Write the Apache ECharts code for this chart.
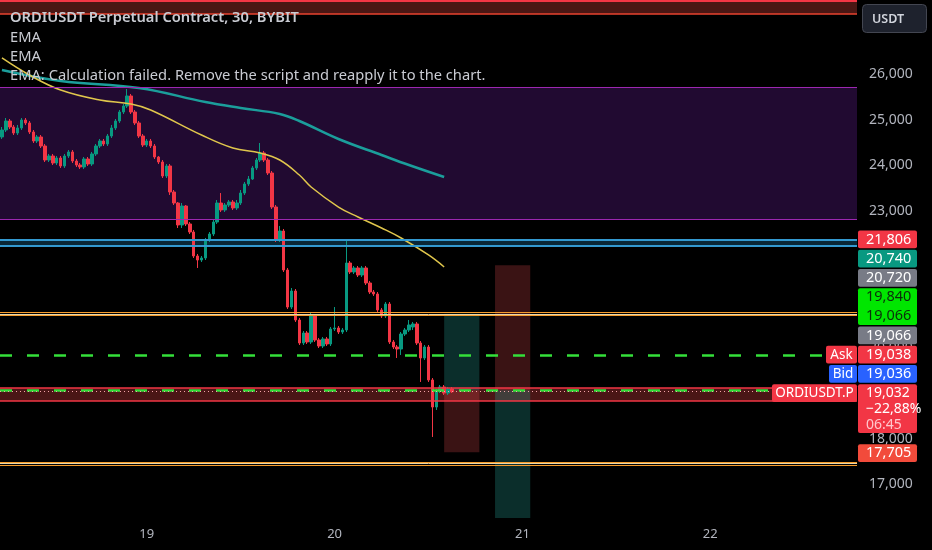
<!DOCTYPE html>
<html><head><meta charset="utf-8">
<script src="https://cdn.jsdelivr.net/npm/echarts/dist/echarts.min.js"></script>
<style>html,body{margin:0;padding:0;background:#000;}#c{width:932px;height:550px;}</style>
</head><body><div id="c"></div>
<script>
// ---- data (30-minute candles, ORDIUSDT.P) : [open, close, low, high]
const candles = [
[24619,24772,24575,24838],[24772,24969,24728,25035],[24969,24838,24794,25013],[24838,24706,24662,24882],
[24706,24816,24662,24882],[24816,24991,24772,25035],[24991,24926,24882,25035],[24926,24728,24684,24969],
[24728,24531,24487,24772],[24531,24619,24487,24662],[24619,24421,24377,24662],[24421,24114,24070,24465],
[24114,24202,24070,24246],[24202,24048,24004,24246],[24048,24158,24004,24202],[24158,23983,23939,24202],
[23983,24202,23939,24246],[24202,24290,24158,24333],[24290,24092,24048,24333],[24092,24004,23961,24136],
[24004,23961,23917,24048],[23961,24136,23917,24180],[24136,24026,23983,24180],[24026,24246,23983,24290],
[24246,24421,24202,24465],[24421,24531,24377,24575],[24531,24465,24421,24575],[24465,24640,24421,24684],
[24640,24816,24597,24882],[24816,24969,24772,25013],[24969,25167,24926,25211],[25167,25298,25123,25342],
[25298,25518,25255,25671],[25518,25167,25123,25562],[25167,24926,24882,25211],[24926,24640,24597,24969],
[24640,24443,24399,24684],[24443,24531,24399,24575],[24531,24421,24377,24575],[24421,24180,24136,24465],
[24180,24070,24026,24202],[24070,23763,23719,24114],[23763,23983,23719,24026],[23983,23412,23347,24026],
[23412,23171,23127,23456],[23171,22689,22623,23193],[22689,23105,22623,23171],[23105,22711,22667,23127],
[22711,22535,22491,22754],[22535,22009,21965,22579],[22009,21921,21746,22053],[21921,21965,21877,22009],
[21965,22360,21921,22404],[22360,22491,22316,22535],[22491,22754,22447,22798],[22754,23171,22711,23237],
[23171,23018,22974,23390],[23018,23127,22974,23171],[23127,23193,23083,23237],[23193,23062,23018,23237],
[23062,23171,23018,23237],[23171,23390,23127,23456],[23390,23588,23347,23632],[23588,23697,23544,23763],
[23697,23939,23676,23983],[23939,24114,23895,24158],[24114,24268,24070,24487],[24268,24114,24070,24312],
[24114,23829,23785,24158],[23829,23083,23040,23873],[23083,22360,22316,23127],[22360,22557,22316,22667],
[22557,21702,21658,22601],[21702,20890,20847,21746],[20890,21241,20847,21307],[21241,20605,20562,21285],
[20605,20101,20057,20649],[20101,20320,20057,20364],[20320,20123,20079,20364],[20123,20693,20079,20781],
[20693,20167,20123,20737],[20167,20035,19991,20211],[20035,20189,19991,20233],[20189,20079,20035,20233],
[20079,20408,20035,20452],[20408,20430,20364,20890],[20430,20342,20298,20474],[20342,20386,20298,20430],
[20386,21855,20342,22360],[21855,21658,21614,21899],[21658,21746,21614,21790],[21746,21592,21548,21790],
[21592,21746,21548,21790],[21746,21417,21373,21790],[21417,21219,21176,21461],[21219,21176,21132,21263],
[21176,20825,20781,21219],[20825,20693,20649,20869],[20693,20956,20649,21000],[20956,20123,20079,21000],
[20123,20013,19969,20167],[20013,19969,19772,20057],[19969,20298,19838,20342],[20298,20386,20255,20430],
[20386,20496,20342,20605],[20452,20518,20386,20562],[20518,20101,20057,20562],[20101,19772,19246,20145],
[19772,20013,19728,20057],[20013,19290,19246,20057],[19290,18697,18040,19333],[18697,19048,18632,19092],
[19048,19136,19004,19180],[19136,19004,18961,19180],[19004,19092,18961,19136],[19092,19032,19004,19136]
];
// EMA readings [candle index, value]
const emaYellow = [[0,26351],[7,25978],[15,25649],[25,25430],[33,25342],[38,25211],[51,24662],[59,24377],
  [66,24268],[71,24114],[76,23785],[79,23522],[86,23083],[91,22864],[97,22623],[102,22404],[109,22031],[113,21768]];
const emaTeal = [[0,26088],[15,25847],[35,25693],[52,25386],[61,25255],[71,25123],[76,24969],[86,24575],
  [97,24224],[104,24004],[113,23741]];
const dayTicks = ['19','20','21','22'];
// price levels
const topZone = [27316, 28000];
const purpleZone = [22810, 25715];
const blueZone = [22240, 22375];
const orangeHigh = [20705, 20737, 20765];
const orangeLow = [17430, 17458, 17485];
const redZone = [18829, 19115];
const greenDashed = [19840, 19066];
const lastPrice = 19032;
const longPos = {from:113, to:122, entry:19066, target:20740, stop:17705};
const shortPos = {from:126, to:135, entry:19066, target:16263, stop:21806};
// texts
const titleLines = ['ORDIUSDT Perpetual Contract, 30, BYBIT','EMA','EMA','EMA: Calculation failed. Remove the script and reapply it to the chart.'];
const scaleTags = [['21,806'],['20,740'],['20,720'],['19,840','19,066'],['19,066'],['19,038'],['19,036'],['19,032','\u221222,88%','06:45'],['17,705']];
const sideTags = ['Ask','Bid','ORDIUSDT.P'];

// categories: 30-min slots starting 18th 05:30
const cats = [];
{ let d = 18, m = 330;
  for (let i = 0; i < 219; i++) {
    const hh = String(Math.floor(m/60)).padStart(2,'0'), mm = String(m%60).padStart(2,'0');
    cats.push(d + ' ' + hh + ':' + mm);
    m += 30; if (m >= 1440) { m -= 1440; d++; }
  }
}
const fmt = v => Number(v).toLocaleString('en-US');
const FONT = '"Noto Sans", "Open Sans", sans-serif';
const UP = '#089981', DOWN = '#f23645';

function hl(v, color, width, type) {
  return {yAxis: v, lineStyle: {color: color, width: width, type: type || 'solid', opacity: 1}};
}
const lines = [
  hl(27600, '#f23645', 2), hl(topZone[0], '#e8432f', 1.5),
  hl(purpleZone[0], '#9c27b0', 1.2), hl(purpleZone[1], '#9c27b0', 1.2),
  hl(blueZone[0], '#3399d0', 2.2), hl(blueZone[1], '#3399d0', 2.2),
  hl(orangeHigh[0], '#f59b2b', 1.2), hl(orangeHigh[1], '#e9d7a8', 1), hl(orangeHigh[2], '#f59b2b', 1.2),
  hl(orangeLow[0], '#f59b2b', 1.2), hl(orangeLow[1], '#e9d7a8', 1), hl(orangeLow[2], '#f59b2b', 1.2),
  hl(redZone[0], '#f23645', 1.5), hl(redZone[1], '#f23645', 1.5),
  hl(greenDashed[0], '#34e03a', 2.5, [12, 15]), hl(greenDashed[1], '#34e03a', 2.5, [12, 15]),
  hl(lastPrice, '#f5a3a8', 1, [1, 3])
];
const areas = [
  [{yAxis: topZone[0], itemStyle:{color:'#4a1714'}}, {yAxis: topZone[1]}],
  [{yAxis: purpleZone[0], itemStyle:{color:'#210a31'}}, {yAxis: purpleZone[1]}],
  [{yAxis: blueZone[0], itemStyle:{color:'#0a2736'}}, {yAxis: blueZone[1]}],
  [{yAxis: redZone[0], itemStyle:{color:'#4a1616'}}, {yAxis: redZone[1]}],
  [{xAxis: longPos.from, yAxis: longPos.entry, itemStyle:{color:'rgba(40,170,160,0.27)'}}, {xAxis: longPos.to, yAxis: longPos.target}],
  [{xAxis: longPos.from, yAxis: longPos.stop, itemStyle:{color:'rgba(242,80,85,0.24)'}}, {xAxis: longPos.to, yAxis: longPos.entry}],
  [{xAxis: shortPos.from, yAxis: shortPos.entry, itemStyle:{color:'rgba(242,80,85,0.24)'}}, {xAxis: shortPos.to, yAxis: shortPos.stop}],
  [{xAxis: shortPos.from, yAxis: shortPos.target, itemStyle:{color:'rgba(40,170,160,0.27)'}}, {xAxis: shortPos.to, yAxis: shortPos.entry}]
];

// ---- overlay UI (TradingView-style labels)
const g = [];
function txt(x, y, s, fill, font, align) {
  g.push({type:'text', z:100, x:x, y:y, style:{text:s, fill:fill, font:font, align:align||'left', textAlign:align||'left', verticalAlign:'middle', textVerticalAlign:'middle'}});
}
function box(x, y, w, h, fill, r) {
  g.push({type:'rect', z:99, shape:{x:x, y:y, width:w, height:h, r:r||2}, style:{fill:fill}});
}
titleLines.forEach((s, i) => txt(10, [18, 38, 57, 76][i], s, '#c9cbd2', (i === 0 ? '600 ' : '') + '14.7px ' + FONT));
g.push({type:'rect', z:99, shape:{x:862.5, y:4.5, width:64, height:28, r:4}, style:{fill:'#1e222d', stroke:'#434651', lineWidth:1}});
txt(872, 19, 'USDT', '#d1d4dc', '600 12.5px ' + FONT);
const tagStyle = [
  {bg:'#f23645', fg:'#ffffff', top:230.5},
  {bg:'#089981', fg:'#ffffff', top:249.8},
  {bg:'#787b86', fg:'#ffffff', top:269},
  {bg:'#00e600', fg:'#0b2e0b', top:288.3},
  {bg:'#787b86', fg:'#ffffff', top:326.5},
  {bg:'#f23645', fg:'#ffffff', top:345.8},
  {bg:'#2962ff', fg:'#ffffff', top:365},
  {bg:'#f23645', fg:'#ffffff', top:384.3},
  {bg:'#f24b3b', fg:'#ffffff', top:444.3}
];
scaleTags.forEach((lines, i) => {
  const st = tagStyle[i];
  const pitch = lines.length === 3 ? 16 : 19;
  const h = lines.length === 1 ? 17.7 : (lines.length === 2 ? 36.7 : 48.7);
  box(858, st.top, 59, h, st.bg);
  lines.forEach((s, k) => {
    const y = st.top + 8.9 + k * pitch;
    const fg = (lines.length === 3 && k === 2) ? '#ffc7cc' : st.fg;
    txt(866, y, s, fg, (lines.length === 3 ? '14px ' : '14.5px ') + FONT);
  });
});
const sideStyle = [
  {x:826, w:31, bg:'#f23645', top:345.8},
  {x:829, w:28, bg:'#2962ff', top:365},
  {x:772, w:85, bg:'#f23645', top:384.3}
];
sideTags.forEach((s, i) => {
  const st = sideStyle[i];
  box(st.x, st.top, st.w, 17.7, st.bg);
  txt(st.x + st.w / 2, st.top + 8.9, s, '#ffffff', '13.5px ' + FONT, 'center');
});

const chart = echarts.init(document.getElementById('c'));
chart.setOption({
  animation: false,
  backgroundColor: '#000000',
  grid: {left: 0, right: 75, top: -17.2, bottom: 20, containLabel: false, outerBoundsMode: 'none'},
  xAxis: {
    type: 'category', data: cats, boundaryGap: true,
    axisLine: {show: false}, axisTick: {show: false}, splitLine: {show: false},
    axisLabel: {
      interval: (i, v) => v.endsWith('00:00') && dayTicks.includes(v.split(' ')[0]),
      formatter: v => v.split(' ')[0],
      color: '#b2b5be', fontSize: 13, fontFamily: FONT, margin: -2
    }
  },
  yAxis: {
    type: 'value', position: 'right', min: 16000, max: 28000, interval: 1000, scale: true,
    axisLine: {show: false}, axisTick: {show: false}, splitLine: {show: false},
    axisLabel: {
      margin: 12, color: '#b2b5be', fontSize: 14, fontFamily: FONT, align: 'left',
      formatter: v => (v >= 27000 || v <= 16000) ? '' : fmt(v)
    }
  },
  series: [
    {type: 'line', z: 1, data: [], silent: true,
     markArea: {silent: true, label: {show: false}, emphasis: {disabled: true}, data: areas}},
    {type: 'candlestick', z: 3, data: candles, barWidth: 3, silent: true,
     itemStyle: {color: UP, color0: DOWN, borderColor: UP, borderColor0: DOWN, borderWidth: 1}},
    {type: 'line', z: 4, data: emaTeal, smooth: 0.4, showSymbol: false, silent: true,
     lineStyle: {color: '#1b9e9b', width: 2.5}},
    {type: 'line', z: 4, data: emaYellow, smooth: 0.4, showSymbol: false, silent: true,
     lineStyle: {color: '#e0c64c', width: 1.5}},
    {type: 'line', z: 5, data: [], silent: true,
     markLine: {silent: true, symbol: ['none', 'none'], label: {show: false}, emphasis: {disabled: true}, data: lines}}
  ],
  graphic: g
});
</script></body></html>
